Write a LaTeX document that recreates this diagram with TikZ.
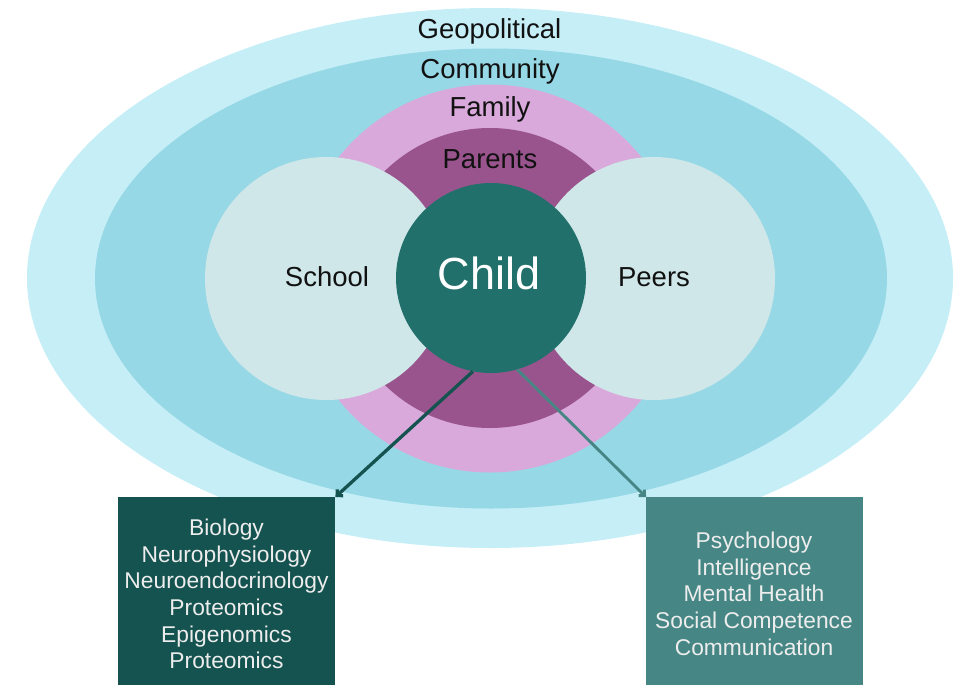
\documentclass[tikz,border=0pt]{standalone}
\usepackage{fontspec}
\setmainfont{Liberation Sans}
\usetikzlibrary{arrows.meta,shapes.geometric}

\definecolor{geoC}{HTML}{C5EEF7}
\definecolor{commC}{HTML}{97D8E6}
\definecolor{famC}{HTML}{D9A9DB}
\definecolor{parC}{HTML}{9A548D}
\definecolor{sideC}{HTML}{CFE7E8}
\definecolor{childC}{HTML}{22706B}
\definecolor{bioC}{HTML}{14534F}
\definecolor{psyC}{HTML}{468785}
\definecolor{labelC}{HTML}{111111}
\definecolor{paneltextC}{HTML}{EDEDED}

\begin{document}
\begin{tikzpicture}[x=1pt,y=-1pt,
  oval/.style={ellipse, inner sep=0pt, draw=none},
  disc/.style={circle, inner sep=0pt, draw=none},
  ringlabel/.style={font=\fontsize{27.5}{30}\selectfont, text=labelC, anchor=base, inner sep=0pt},
  panel/.style={rectangle, inner sep=0pt, anchor=north west, minimum width=217pt, minimum height=188pt},
  paneltext/.style={font=\fontsize{22.8}{26.6}\selectfont, align=center, anchor=north, inner sep=0pt, text=paneltextC},
  link/.style={line width=3.3pt, -{Straight Barb[angle=90:6pt]}}
]
\useasboundingbox (0,0) rectangle (957,685);

% nested spheres of influence
\node[oval, fill=geoC,  minimum width=926pt, minimum height=540pt] (geo)  at (490,278) {};
\node[oval, fill=commC, minimum width=792pt, minimum height=460pt] (comm) at (491,278.5) {};
\node[disc, fill=famC,  minimum size=388pt] (fam) at (490,278.5) {};
\node[disc, fill=parC,  minimum size=300pt] (par) at (490,278) {};
\node[disc, fill=sideC, minimum size=243pt] (school) at (326.5,278.5) {};
\node[disc, fill=sideC, minimum size=243pt] (peers)  at (653.5,278.5) {};
\node[disc, fill=childC, minimum size=190pt] (child) at (491,278) {};

% ring labels
\node[ringlabel] (geoL)  at (489.5,38)  {Geopolitical};
\node[ringlabel] (commL) at (490,78)    {Community};
\node[ringlabel] (famL)  at (490,116)   {Family};
\node[ringlabel] (parL)  at (490,168)   {Parents};
\node[ringlabel] (schL)  at (327,286)   {School};
\node[ringlabel] (peerL) at (654,286)   {Peers};
\node[ringlabel, text=white, font=\fontsize{45}{48}\selectfont] (childL) at (489,289) {Child};

% outcome panels
\node[panel, fill=bioC] (bio) at (118,497) {};
\node[panel, fill=psyC] (psy) at (646,497) {};
\node[paneltext] (bioT) at (226.5,519) {Biology\\Neurophysiology\\Neuroendocrinology\\Proteomics\\Epigenomics\\Proteomics};
\node[paneltext] (psyT) at (754,532) {Psychology\\Intelligence\\Mental Health\\Social Competence\\Communication};

% connectors from the child to the panels
\draw[link, draw=bioC] (child.-101) -- (bio.north east);
\draw[link, draw=psyC, line width=2.9pt] (child.-74) -- (psy.north west);
\end{tikzpicture}
\end{document}
